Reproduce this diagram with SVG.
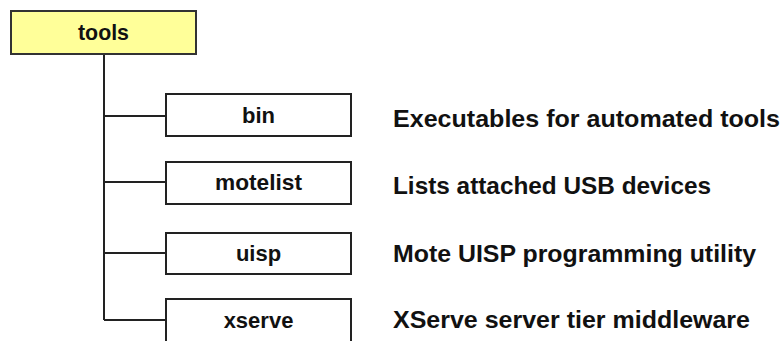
<svg xmlns="http://www.w3.org/2000/svg" width="784" height="341" viewBox="0 0 784 341">
  <style>
    .box { fill: #ffffff; stroke: #222222; stroke-width: 2; }
    .root { fill: #ffff99; stroke: #333333; stroke-width: 2; }
    .name { font-family: "Liberation Sans", Arial, sans-serif; font-weight: bold; font-size: 22px; fill: #111111; text-anchor: middle; }
    .desc { font-family: "Liberation Sans", Arial, sans-serif; font-weight: bold; font-size: 24.5px; fill: #111111; }
    .wire { fill: none; stroke: #222222; stroke-width: 2; }
  </style>
  <rect width="784" height="341" fill="#ffffff"/>

  <!-- tree connectors -->
  <g id="connectors">
    <path class="wire" d="M104 54 V320"/>
    <path class="wire" d="M104 116 H166"/>
    <path class="wire" d="M104 182 H166"/>
    <path class="wire" d="M104 253 H166"/>
    <path class="wire" d="M104 320 H166"/>
  </g>

  <g id="tools">
    <rect class="root" x="11" y="11" width="185" height="43"/>
    <text class="name" x="103.5" y="40" textLength="51" lengthAdjust="spacingAndGlyphs">tools</text>
  </g>

  <g id="bin">
    <rect class="box" x="166" y="94" width="185" height="42"/>
    <text class="name" x="258.5" y="123">bin</text>
    <text class="desc" x="393" y="127" textLength="387" lengthAdjust="spacingAndGlyphs">Executables for automated tools</text>
  </g>

  <g id="motelist">
    <rect class="box" x="166" y="162" width="185" height="42"/>
    <text class="name" x="258.5" y="190" textLength="87" lengthAdjust="spacingAndGlyphs">motelist</text>
    <text class="desc" x="393" y="194" textLength="318" lengthAdjust="spacingAndGlyphs">Lists attached USB devices</text>
  </g>

  <g id="uisp">
    <rect class="box" x="166" y="233" width="185" height="41"/>
    <text class="name" x="258.5" y="261">uisp</text>
    <text class="desc" x="393" y="262" textLength="363" lengthAdjust="spacingAndGlyphs">Mote UISP programming utility</text>
  </g>

  <g id="xserve">
    <rect class="box" x="166" y="299" width="185" height="60"/>
    <text class="name" x="258.5" y="328">xserve</text>
    <text class="desc" x="393" y="328" textLength="357" lengthAdjust="spacingAndGlyphs">XServe server tier middleware</text>
  </g>
</svg>
